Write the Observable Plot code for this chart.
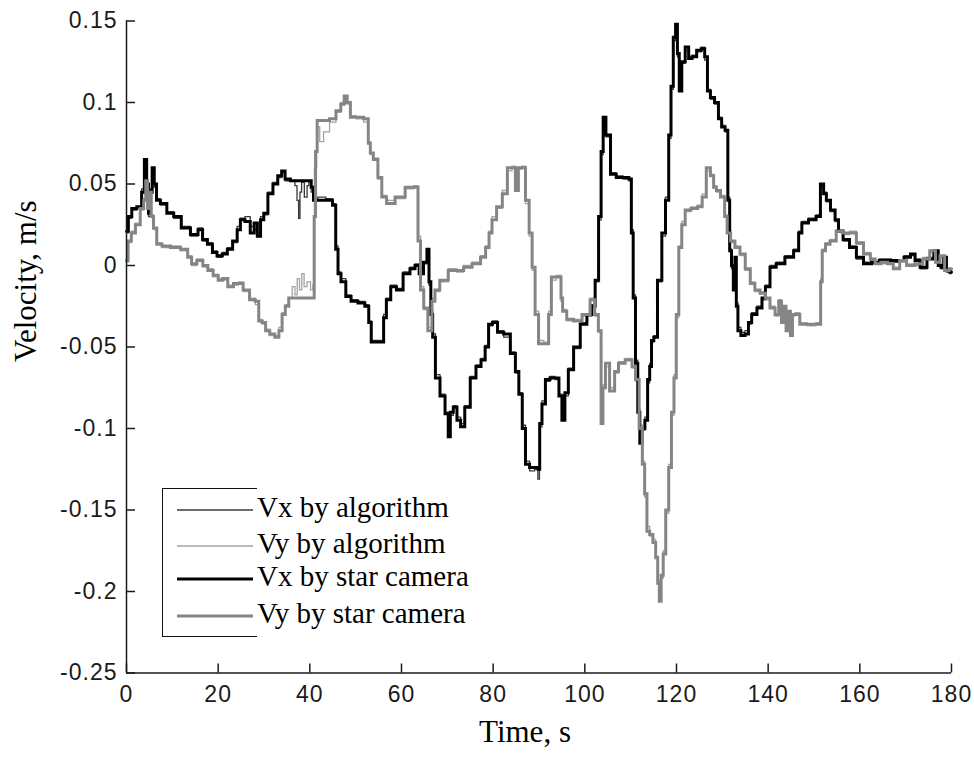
<!DOCTYPE html>
<html>
<head>
<meta charset="utf-8">
<script src="https://cdn.jsdelivr.net/npm/d3@7"></script>
<script src="https://cdn.jsdelivr.net/npm/@observablehq/plot@0.6"></script>
<style>
  html, body { margin: 0; padding: 0; background: #fff; }
  #wrap { position: relative; width: 974px; height: 758px; }
  #wrap svg g[aria-label="x-axis tick label"], #wrap svg g[aria-label="y-axis tick label"] { letter-spacing: 1px; }
  #legend { position: absolute; left: 162px; top: 488px; width: 95px; height: 149px;
            border-left: 1.5px solid #111; border-top: 1.5px solid #111; border-bottom: 1.5px solid #111; box-sizing: border-box; }
  .lg-row { position: absolute; left: 14px; height: 0; white-space: nowrap; }
  .lg-row svg { position: absolute; left: 0; top: -4px; overflow: visible; }
  .lg-row span { position: absolute; left: 80px; top: -20px; font-family: "Liberation Serif", "Times New Roman", serif; font-size: 29px; line-height: 34px; color: #000; }
</style>
</head>
<body>
<div id="wrap"><div id="legend"></div></div>
<script>
// ---- Data ----
const seriesNames = ["Vx by algorithm", "Vy by algorithm", "Vx by star camera", "Vy by star camera"];
const seriesColors = ["#3a3a3a", "#a3a3a3", "#000000", "#858585"];
const seriesWidths = [1.3, 1.3, 3, 3];
const xTicks = [0, 20, 40, 60, 80, 100, 120, 140, 160, 180];
const yTicks = [-0.25, -0.2, -0.15, -0.1, -0.05, 0, 0.05, 0.1, 0.15];

// [time s, velocity m/s]
const vxStar = [
 [0,0.021],[0.8,0.03],[1.5,0.035],[3.0,0.036],[3.6,0.045],[4.2,0.065],[4.6,0.05],[5.0,0.032],[5.4,0.045],[5.8,0.06],
 [6.3,0.05],[6.8,0.04],[8.0,0.038],[9.6,0.032],[11.0,0.03],[12.9,0.023],[15.0,0.019],[16.2,0.022],[17.0,0.016],[18.3,0.013],
 [19.2,0.008],[20.3,0.006],[21.5,0.007],[22.5,0.01],[23.8,0.015],[24.5,0.022],[25.2,0.028],[26.5,0.027],[27.5,0.02],[28.2,0.026],
 [28.9,0.018],[29.6,0.028],[30.3,0.032],[31.4,0.044],[32.5,0.05],[33.5,0.055],[34.2,0.058],[35.0,0.053],[36.5,0.052],[38.0,0.052],
 [40.0,0.052],[40.6,0.048],[41.0,0.04],[42.5,0.04],[44.5,0.04],[45.4,0.037],[45.9,0.01],[46.4,-0.005],[47.2,-0.01],[48.5,-0.019],
 [49.5,-0.022],[51.5,-0.023],[52.5,-0.025],[53.2,-0.035],[53.6,-0.047],[55.8,-0.047],[56.4,-0.032],[57.0,-0.021],[58.3,-0.013],[59.5,-0.015],
 [61.2,-0.005],[62.5,-0.002],[63.4,0.0],[64.3,-0.005],[65.3,0.002],[65.8,0.01],[66.2,-0.01],[66.6,-0.03],[67.0,-0.044],[67.8,-0.069],
 [69.0,-0.08],[70.0,-0.091],[70.4,-0.105],[70.9,-0.09],[71.7,-0.087],[72.5,-0.095],[73.3,-0.099],[74.3,-0.087],[75.7,-0.069],[76.8,-0.062],
 [77.9,-0.058],[78.6,-0.05],[79.4,-0.036],[80.3,-0.035],[81.6,-0.041],[83.0,-0.042],[84.5,-0.054],[85.2,-0.065],[86.0,-0.079],[86.7,-0.1],
 [87.4,-0.122],[88.5,-0.124],[89.6,-0.124],[90.0,-0.125],[90.3,-0.097],[91.0,-0.085],[91.8,-0.07],[93.0,-0.069],[94.0,-0.069],[94.7,-0.08],
 [95.3,-0.095],[96.0,-0.078],[96.8,-0.064],[98.3,-0.05],[99.7,-0.036],[101.2,-0.03],[101.8,-0.025],[102.7,-0.009],[103.3,0.03],[103.8,0.07],
 [104.2,0.091],[105.0,0.08],[106.2,0.056],[107.5,0.054],[109.2,0.054],[110.0,0.053],[110.3,0.02],[110.8,-0.02],[111.3,-0.06],[111.8,-0.09],
 [112.2,-0.109],[112.8,-0.1],[113.4,-0.095],[114.0,-0.07],[114.3,-0.062],[114.8,-0.046],[115.3,-0.044],[116.4,-0.009],[117.2,0.02],[118.0,0.04],
 [118.6,0.08],[119.0,0.11],[119.6,0.14],[120.0,0.148],[120.4,0.13],[120.8,0.107],[121.5,0.125],[122.3,0.134],[123.0,0.127],[123.8,0.128],
 [125.0,0.132],[125.8,0.133],[126.5,0.128],[127.0,0.107],[127.8,0.103],[128.8,0.1],[129.5,0.09],[130.2,0.085],[131.0,0.083],[131.4,0.04],
 [131.8,0.009],[132.2,0.0],[132.6,-0.015],[132.9,0.005],[133.2,-0.025],[133.6,-0.04],[134.5,-0.043],[135.4,-0.042],[136.0,-0.035],[136.8,-0.03],
 [138.3,-0.026],[139.0,-0.02],[139.8,-0.013],[141.0,-0.001],[142.5,0.001],[144.8,0.005],[146.3,0.009],[147.0,0.02],[147.7,0.026],[149.9,0.028],
 [151.0,0.03],[151.8,0.05],[152.4,0.044],[153.0,0.04],[154.2,0.034],[155.0,0.028],[155.7,0.021],[157.0,0.016],[158.5,0.011],[160.0,0.005],
 [161.6,0.001],[163.5,0.002],[165.0,0.003],[168.8,0.003],[170.5,0.005],[171.6,0.007],[172.5,0.003],[173.8,-0.001],[175.5,0.004],[176.8,0.009],
 [177.4,0.0],[178.0,-0.001],[178.6,0.005],[179.2,-0.003],[180.0,-0.004]
];

const vxAlg = [
 [0,0.02],[0.8,0.029],[1.5,0.034],[3.0,0.036],[3.6,0.047],[4.2,0.063],[4.6,0.048],[5.0,0.03],[5.4,0.047],[5.8,0.058],
 [6.3,0.048],[6.8,0.041],[8.0,0.037],[9.6,0.033],[11.0,0.029],[12.9,0.024],[15.0,0.018],[16.2,0.023],[17.0,0.015],[18.3,0.014],
 [19.2,0.009],[20.3,0.005],[21.5,0.008],[22.5,0.011],[23.8,0.014],[24.5,0.024],[25.2,0.029],[26.5,0.03],[27.5,0.024],[28.2,0.022],
 [28.9,0.02],[29.6,0.03],[30.3,0.031],[31.4,0.045],[32.5,0.051],[33.5,0.054],[34.2,0.057],[35.0,0.052],[36.5,0.052],[37.0,0.049],
 [37.4,0.04],[37.7,0.029],[38.0,0.045],[38.4,0.051],[39.2,0.042],[39.6,0.049],[40.0,0.051],[40.6,0.045],[41.0,0.041],[42.5,0.042],
 [44.5,0.041],[45.4,0.038],[45.9,0.012],[46.4,-0.004],[47.2,-0.008],[48.5,-0.018],[49.5,-0.021],[51.5,-0.022],[52.5,-0.024],[53.2,-0.034],
 [53.6,-0.046],[55.8,-0.046],[56.4,-0.03],[57.0,-0.02],[58.3,-0.012],[59.5,-0.014],[61.2,-0.004],[62.5,-0.001],[63.4,0.001],[64.3,-0.004],
 [65.3,0.001],[65.8,0.008],[66.2,-0.012],[66.6,-0.028],[67.0,-0.042],[67.8,-0.067],[69.0,-0.079],[70.0,-0.09],[70.4,-0.102],[70.9,-0.092],
 [71.7,-0.086],[72.5,-0.093],[73.3,-0.097],[74.3,-0.086],[75.7,-0.068],[76.8,-0.061],[77.9,-0.057],[78.6,-0.049],[79.4,-0.037],[80.3,-0.034],
 [81.6,-0.04],[83.0,-0.044],[84.5,-0.053],[85.2,-0.066],[86.0,-0.078],[86.7,-0.098],[87.4,-0.12],[88.5,-0.126],[89.6,-0.125],[89.9,-0.131],
 [90.3,-0.099],[91.0,-0.083],[91.8,-0.071],[93.0,-0.068],[94.0,-0.07],[94.7,-0.079],[95.3,-0.093],[96.0,-0.08],[96.8,-0.063],[98.3,-0.051],
 [99.7,-0.035],[101.2,-0.031],[101.8,-0.024],[102.7,-0.01],[103.3,0.028],[103.8,0.068],[104.2,0.088],[105.0,0.079],[106.2,0.057],[107.5,0.055],
 [109.2,0.053],[110.0,0.052],[110.3,0.022],[110.8,-0.018],[111.3,-0.058],[111.8,-0.088],[112.2,-0.106],[112.8,-0.101],[113.4,-0.093],[114.0,-0.072],
 [114.3,-0.06],[114.8,-0.047],[115.3,-0.043],[116.4,-0.01],[117.2,0.018],[118.0,0.042],[118.6,0.078],[119.0,0.108],[119.6,0.138],[120.0,0.146],
 [120.4,0.128],[120.8,0.109],[121.5,0.124],[122.3,0.132],[123.0,0.128],[123.8,0.129],[125.0,0.131],[125.8,0.134],[126.5,0.126],[127.0,0.108],
 [127.8,0.102],[128.8,0.099],[129.5,0.091],[130.2,0.086],[131.0,0.082],[131.4,0.042],[131.8,0.01],[132.2,-0.002],[132.6,-0.013],[132.9,0.003],
 [133.2,-0.023],[133.6,-0.038],[134.5,-0.041],[135.4,-0.04],[136.0,-0.036],[136.8,-0.029],[138.3,-0.025],[139.0,-0.021],[139.8,-0.012],[141.0,0.0],
 [142.5,0.002],[144.8,0.006],[146.3,0.01],[147.0,0.021],[147.7,0.027],[149.9,0.029],[151.0,0.031],[151.8,0.048],[152.4,0.045],[153.0,0.039],
 [154.2,0.033],[155.0,0.027],[155.7,0.022],[157.0,0.015],[158.5,0.012],[160.0,0.004],[161.6,0.002],[163.5,0.001],[165.0,0.004],[168.8,0.002],
 [170.5,0.006],[171.6,0.006],[172.5,0.004],[173.8,-0.002],[175.5,0.005],[176.8,0.008],[177.4,0.001],[178.0,-0.002],[178.6,0.004],[179.2,-0.004],
 [180.0,-0.005]
];

const vyStar = [
 [0,0.003],[0.7,0.015],[1.4,0.02],[2.5,0.025],[3.5,0.035],[4.0,0.04],[4.4,0.052],[4.8,0.035],[5.2,0.045],[5.6,0.03],
 [6.2,0.023],[7.0,0.013],[8.5,0.012],[10.7,0.011],[12.9,0.01],[13.8,0.005],[14.6,0.001],[16.1,0.003],[17.2,0.0],[18.3,-0.003],
 [19.5,-0.006],[20.5,-0.009],[21.5,-0.008],[22.7,-0.013],[24.0,-0.011],[24.9,-0.011],[26.0,-0.015],[27.7,-0.021],[28.5,-0.022],[29.2,-0.034],
 [30.0,-0.035],[30.7,-0.04],[31.8,-0.042],[32.9,-0.044],[33.6,-0.04],[34.3,-0.03],[35.0,-0.025],[35.8,-0.02],[37.5,-0.02],[39.0,-0.02],
 [40.8,-0.02],[41.1,0.03],[41.4,0.07],[41.8,0.089],[43.5,0.089],[45.1,0.09],[46.3,0.095],[47.2,0.099],[47.8,0.104],[48.5,0.1],
 [49.2,0.091],[51.0,0.091],[52.5,0.09],[53.0,0.075],[53.4,0.069],[54.3,0.065],[55.4,0.054],[56.0,0.042],[57.5,0.038],[59.7,0.042],
 [61.9,0.048],[63.4,0.048],[63.8,0.015],[64.5,-0.015],[65.2,-0.026],[66.3,-0.04],[67.0,-0.022],[67.6,-0.015],[69.1,-0.009],[71.3,-0.003],
 [72.8,-0.003],[74.3,-0.001],[76.5,0.001],[78.0,0.005],[78.7,0.011],[79.5,0.02],[80.0,0.028],[81.5,0.036],[82.5,0.044],[83.7,0.06],
 [84.5,0.06],[85.2,0.046],[85.8,0.06],[86.6,0.06],[87.5,0.04],[88.2,0.02],[88.8,-0.001],[89.5,-0.03],[90.3,-0.048],[91.8,-0.048],
 [92.4,-0.03],[93.0,-0.007],[94.6,-0.007],[95.0,-0.02],[95.3,-0.028],[96.8,-0.033],[98.3,-0.034],[100.5,-0.03],[101.8,-0.021],[102.5,-0.03],
 [103.4,-0.04],[103.7,-0.097],[104.2,-0.075],[104.8,-0.06],[106.0,-0.077],[107.0,-0.065],[107.7,-0.06],[109.9,-0.058],[110.7,-0.062],[111.4,-0.07],
 [112.3,-0.1],[112.8,-0.122],[113.3,-0.14],[113.8,-0.163],[114.5,-0.165],[115.2,-0.17],[115.7,-0.179],[116.1,-0.195],[116.4,-0.206],[116.9,-0.19],
 [117.3,-0.177],[118.0,-0.15],[118.6,-0.124],[119.2,-0.09],[119.7,-0.069],[120.2,-0.03],[120.8,0.011],[121.5,0.025],[122.3,0.034],[124.0,0.035],
 [125.2,0.036],[126.0,0.042],[127.0,0.06],[127.8,0.055],[128.4,0.048],[129.0,0.046],[130.2,0.042],[130.8,0.03],[131.3,0.02],[132.3,0.015],
 [133.2,0.011],[134.5,0.007],[135.5,-0.002],[136.7,-0.011],[137.5,-0.015],[139.0,-0.017],[139.8,-0.02],[141.0,-0.026],[142.0,-0.03],[142.6,-0.022],
 [143.2,-0.035],[143.7,-0.025],[144.1,-0.04],[144.6,-0.028],[145.1,-0.043],[145.5,-0.03],[146.2,-0.03],[147.6,-0.036],[149.5,-0.036],[151.3,-0.036],
 [151.6,-0.01],[152.0,0.009],[153.0,0.013],[154.0,0.015],[155.7,0.021],[157.0,0.02],[158.5,0.02],[160.0,0.014],[161.6,0.007],[163.0,0.004],
 [163.7,0.001],[165.5,0.002],[166.6,0.001],[168.0,-0.002],[169.4,0.003],[171.0,0.0],[173.0,0.001],[174.5,0.004],[176.0,0.009],[177.0,0.002],
 [178.0,0.006],[179.0,-0.003],[180.0,-0.002]
];

const vyAlg = [
 [0,0.002],[0.7,0.014],[1.4,0.021],[2.5,0.026],[3.5,0.034],[4.0,0.041],[4.4,0.05],[4.8,0.036],[5.2,0.044],[5.6,0.031],
 [6.2,0.022],[7.0,0.014],[8.5,0.011],[10.7,0.012],[12.9,0.009],[13.8,0.006],[14.6,0.0],[16.1,0.004],[17.2,-0.001],[18.3,-0.002],
 [19.5,-0.007],[20.5,-0.008],[21.5,-0.009],[22.7,-0.012],[24.0,-0.012],[24.9,-0.01],[26.0,-0.016],[27.7,-0.02],[28.5,-0.024],[29.2,-0.033],
 [30.0,-0.036],[30.7,-0.039],[31.8,-0.043],[32.9,-0.043],[33.6,-0.038],[34.3,-0.029],[35.0,-0.024],[35.8,-0.02],[36.5,-0.013],[37.0,-0.018],
 [37.5,-0.008],[38.0,-0.015],[38.5,-0.005],[39.0,-0.013],[39.8,-0.01],[40.5,-0.015],[40.8,-0.012],[41.2,0.06],[41.8,0.085],[42.5,0.076],
 [43.5,0.082],[45.1,0.088],[46.3,0.094],[47.2,0.1],[47.8,0.103],[48.5,0.099],[49.2,0.092],[51.0,0.09],[52.5,0.088],[53.0,0.076],
 [53.4,0.068],[54.3,0.066],[55.4,0.053],[56.0,0.043],[57.5,0.04],[59.7,0.041],[61.9,0.047],[63.4,0.049],[63.8,0.018],[64.5,-0.013],
 [65.2,-0.027],[66.3,-0.038],[67.0,-0.02],[67.6,-0.016],[69.1,-0.01],[71.3,-0.002],[72.8,-0.004],[74.3,0.0],[76.5,0.002],[78.0,0.006],
 [78.7,0.012],[79.5,0.021],[80.0,0.03],[81.5,0.035],[82.5,0.046],[83.7,0.058],[84.5,0.061],[85.2,0.048],[85.8,0.059],[86.6,0.061],
 [87.5,0.038],[88.2,0.018],[88.8,-0.003],[89.5,-0.028],[90.3,-0.046],[91.8,-0.047],[92.4,-0.028],[93.0,-0.009],[94.6,-0.006],[95.0,-0.022],
 [95.3,-0.027],[96.8,-0.034],[98.3,-0.033],[100.5,-0.031],[101.8,-0.02],[102.5,-0.031],[103.4,-0.041],[103.7,-0.094],[104.2,-0.073],[104.8,-0.062],
 [106.0,-0.075],[107.0,-0.066],[107.7,-0.059],[109.9,-0.057],[110.7,-0.063],[111.4,-0.071],[112.3,-0.098],[112.8,-0.12],[113.3,-0.142],[113.8,-0.16],
 [114.5,-0.166],[115.2,-0.168],[115.7,-0.18],[116.1,-0.193],[116.4,-0.203],[116.9,-0.192],[117.3,-0.175],[118.0,-0.152],[118.6,-0.122],[119.2,-0.092],
 [119.7,-0.067],[120.2,-0.032],[120.8,0.012],[121.5,0.027],[122.3,0.033],[124.0,0.036],[125.2,0.037],[126.0,0.044],[127.0,0.058],[127.8,0.056],
 [128.4,0.049],[129.0,0.045],[130.2,0.043],[130.8,0.031],[131.3,0.022],[132.3,0.014],[133.2,0.012],[134.5,0.006],[135.5,-0.003],[136.7,-0.01],
 [137.5,-0.016],[139.0,-0.016],[139.8,-0.021],[141.0,-0.025],[142.0,-0.031],[142.6,-0.021],[143.2,-0.034],[143.7,-0.026],[144.1,-0.039],[144.6,-0.029],
 [145.1,-0.041],[145.5,-0.031],[146.2,-0.029],[147.6,-0.035],[149.5,-0.037],[151.3,-0.035],[151.6,-0.008],[152.0,0.01],[153.0,0.014],[154.0,0.016],
 [155.7,0.022],[157.0,0.019],[158.5,0.021],[160.0,0.013],[161.6,0.008],[163.0,0.003],[163.7,0.002],[165.5,0.001],[166.6,0.002],[168.0,-0.001],
 [169.4,0.002],[171.0,0.001],[173.0,0.0],[174.5,0.005],[176.0,0.008],[177.0,0.003],[178.0,0.005],[179.0,-0.002],[180.0,-0.003]
];

// ---- Build ----
const seriesData = [vxAlg, vyAlg, vxStar, vyStar];
const rows = seriesData.map((arr, i) => arr.map(([t, v]) => ({t, v, name: seriesNames[i]})));

const fmt = d => String(+d.toFixed(2));
const axisColor = "#1a1a1a";
const W = 974, H = 758, mT = 20.5, mR = 23, mB = 85.5, mL = 126;
const tickLen = 9;

const chart = Plot.plot({
  width: W,
  height: H,
  marginTop: mT,
  marginRight: mR,
  marginBottom: mB,
  marginLeft: mL,
  style: {fontFamily: "'Liberation Sans', Arial, sans-serif", fontSize: "23px", color: axisColor, background: "#fff"},
  x: {domain: [0, 180], nice: false},
  y: {domain: [-0.25, 0.15], nice: false},
  marks: [
    ...rows.map((r, i) => Plot.line(r, {x: "t", y: "v", curve: "step", stroke: seriesColors[i], strokeWidth: seriesWidths[i], strokeLinejoin: "miter", strokeMiterlimit: 2})),
    Plot.ruleX([0], {stroke: axisColor, strokeWidth: 1.5}),
    Plot.ruleY([-0.25], {stroke: axisColor, strokeWidth: 1.5}),
    // inward ticks
    Plot.tickX(xTicks, {x: d => d, insetTop: H - mT - mB - tickLen, stroke: axisColor, strokeWidth: 1.5}),
    Plot.tickY(yTicks, {y: d => d, insetRight: W - mL - mR - tickLen, stroke: axisColor, strokeWidth: 1.5}),
    Plot.axisX({ticks: xTicks, tickFormat: fmt, tickSize: 0, tickPadding: 12.5, label: null}),
    Plot.axisY({ticks: yTicks, tickFormat: fmt, tickSize: 0, tickPadding: 9, label: null}),
    Plot.text(["Velocity, m/s"], {frameAnchor: "left", rotate: -90, dx: -100, dy: 15, fontFamily: "'Liberation Serif', 'Times New Roman', serif", fontSize: 31, fill: "#000"}),
    Plot.text(["Time, s"], {frameAnchor: "bottom", dx: -14, dy: 68.5, fontFamily: "'Liberation Serif', 'Times New Roman', serif", fontSize: 31, fill: "#000"})
  ]
});
const wrap = document.getElementById("wrap");
wrap.insertBefore(chart, wrap.firstChild);

// Legend
const legend = document.getElementById("legend");
const rowY = [21, 57, 90, 127];
seriesNames.forEach((name, i) => {
  const row = document.createElement("div");
  row.className = "lg-row";
  row.style.top = rowY[i] + "px";
  row.innerHTML = `<svg width="76" height="8"><line x1="0" y1="4" x2="76" y2="4" stroke="${seriesColors[i]}" stroke-width="${seriesWidths[i]}"/></svg><span>${name}</span>`;
  legend.appendChild(row);
});
</script>
</body>
</html>
